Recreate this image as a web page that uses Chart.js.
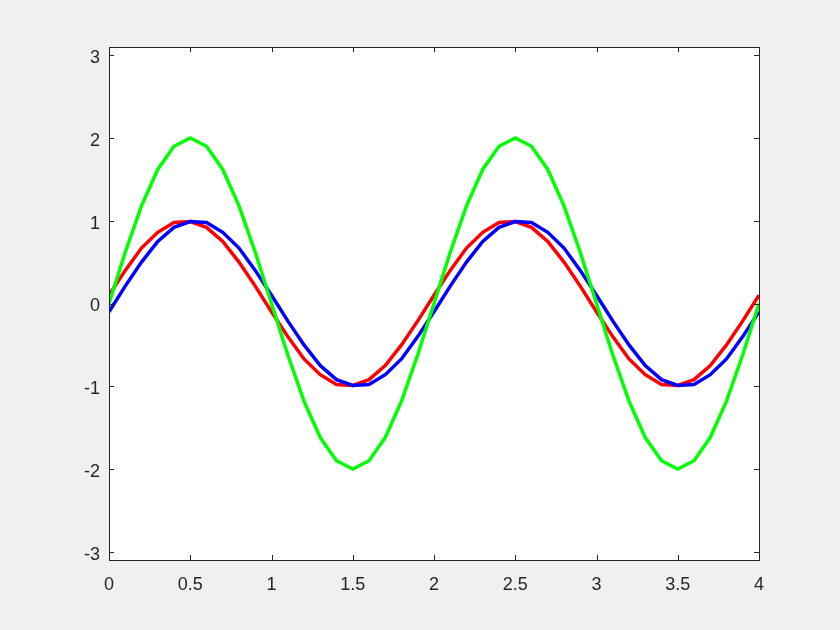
<!DOCTYPE html>
<html lang="en">
  <head>
    <meta charset="utf-8" />
    <title>Sine curves</title>
    <style>
      * {
        margin: 0;
        padding: 0;
      }
      body {
        background: #f0f0f0;
      }
    </style>
  </head>
  <body>
    <canvas id="myChart" width="840" height="630"></canvas>

    <script src="https://cdn.jsdelivr.net/npm/chart.js"></script>

    <script>
      // data block
      const xValues = [
        0, 0.1, 0.2, 0.3, 0.4, 0.5, 0.6, 0.7, 0.8, 0.9, 1, 1.1, 1.2, 1.3, 1.4,
        1.5, 1.6, 1.7, 1.8, 1.9, 2, 2.1, 2.2, 2.3, 2.4, 2.5, 2.6, 2.7, 2.8, 2.9,
        3, 3.1, 3.2, 3.3, 3.4, 3.5, 3.6, 3.7, 3.8, 3.9, 4,
      ];
      const redValues = [
        0.1, 0.4, 0.67, 0.86, 0.98, 0.99, 0.92, 0.75, 0.5, 0.21, -0.1, -0.4,
        -0.67, -0.86, -0.98, -0.99, -0.92, -0.75, -0.5, -0.21, 0.1, 0.4, 0.67,
        0.86, 0.98, 0.99, 0.92, 0.75, 0.5, 0.21, -0.1, -0.4, -0.67, -0.86,
        -0.98, -0.99, -0.92, -0.75, -0.5, -0.21, 0.1,
      ];
      const blueValues = [
        -0.1, 0.21, 0.5, 0.75, 0.92, 0.99, 0.98, 0.86, 0.67, 0.4, 0.1, -0.21,
        -0.5, -0.75, -0.92, -0.99, -0.98, -0.86, -0.67, -0.4, -0.1, 0.21, 0.5,
        0.75, 0.92, 0.99, 0.98, 0.86, 0.67, 0.4, 0.1, -0.21, -0.5, -0.75,
        -0.92, -0.99, -0.98, -0.86, -0.67, -0.4, -0.1,
      ];
      const greenValues = [
        0, 0.62, 1.18, 1.62, 1.9, 2, 1.9, 1.62, 1.18, 0.62, 0, -0.62, -1.18,
        -1.62, -1.9, -2, -1.9, -1.62, -1.18, -0.62, 0, 0.62, 1.18, 1.62, 1.9, 2,
        1.9, 1.62, 1.18, 0.62, 0, -0.62, -1.18, -1.62, -1.9, -2, -1.9, -1.62,
        -1.18, -0.62, 0,
      ];
      const xTicks = [0, 0.5, 1, 1.5, 2, 2.5, 3, 3.5, 4];
      const yTicks = [-3, -2, -1, 0, 1, 2, 3];

      const toPoints = (ys) => ys.map((y, i) => ({ x: xValues[i], y: y }));

      const lineSet = (values, color, order) => ({
        data: toPoints(values),
        borderColor: color,
        backgroundColor: color,
        borderWidth: 3.5,
        pointRadius: 0,
        tension: 0,
        order: order,
      });

      const data = {
        datasets: [
          lineSet(redValues, "#ff0000", 3),
          lineSet(blueValues, "#0000ff", 2),
          lineSet(greenValues, "#00ff00", 1),
        ],
      };

      // white plot area + box with inward ticks, like matlab axes
      const axesBox = {
        id: "axesBox",
        beforeDatasetsDraw(chart) {
          const {
            ctx,
            chartArea: { top, bottom, left, right },
          } = chart;
          ctx.save();
          ctx.fillStyle = "#ffffff";
          ctx.fillRect(left, top, right - left, bottom - top);
          ctx.restore();
        },
        afterDatasetsDraw(chart) {
          const {
            ctx,
            chartArea: { top, bottom, left, right },
            scales: { x, y },
          } = chart;
          const tickLen = 5;
          ctx.save();
          ctx.strokeStyle = "#262626";
          ctx.lineWidth = 1;
          ctx.beginPath();
          xTicks.forEach((v) => {
            const px = Math.round(x.getPixelForValue(v)) + 0.5;
            ctx.moveTo(px, bottom);
            ctx.lineTo(px, bottom - tickLen);
            ctx.moveTo(px, top);
            ctx.lineTo(px, top + tickLen);
          });
          yTicks.forEach((v) => {
            const py = Math.round(y.getPixelForValue(v)) + 0.5;
            ctx.moveTo(left, py);
            ctx.lineTo(left + tickLen, py);
            ctx.moveTo(right, py);
            ctx.lineTo(right - tickLen, py);
          });
          ctx.stroke();
          ctx.strokeRect(
            Math.round(left) + 0.5,
            Math.round(top) + 0.5,
            Math.round(right - left),
            Math.round(bottom - top)
          );
          ctx.restore();
        },
      };

      const tickFont = { family: "'Liberation Sans', Arial, sans-serif", size: 18 };

      // config block
      const config = {
        type: "line",
        data: data,
        options: {
          responsive: false,
          animation: false,
          layout: {
            padding: { left: 0, right: 81, top: 47, bottom: 0 },
          },
          plugins: {
            legend: { display: false },
            tooltip: { enabled: false },
          },
          scales: {
            x: {
              type: "linear",
              min: 0,
              max: 4,
              grid: { display: false, drawTicks: false },
              border: { display: false },
              afterBuildTicks: (axis) => {
                axis.ticks = xTicks.map((v) => ({ value: v }));
              },
              afterFit: (axis) => {
                axis.height = 70;
              },
              ticks: {
                color: "#262626",
                font: tickFont,
                padding: 14,
                maxRotation: 0,
                autoSkip: false,
                callback: (value) => String(value),
              },
            },
            y: {
              min: -3.1,
              max: 3.1,
              grid: { display: false, drawTicks: false },
              border: { display: false },
              afterBuildTicks: (axis) => {
                axis.ticks = yTicks.map((v) => ({ value: v }));
              },
              afterFit: (axis) => {
                axis.width = 109;
              },
              ticks: {
                color: "#262626",
                font: tickFont,
                padding: 9,
                labelOffset: 3,
                autoSkip: false,
                callback: (value) => String(value),
              },
            },
          },
        },
        plugins: [axesBox],
      };

      // init render block
      const ctx = document.getElementById("myChart");
      const myChart = new Chart(ctx, config);
    </script>
  </body>
</html>
